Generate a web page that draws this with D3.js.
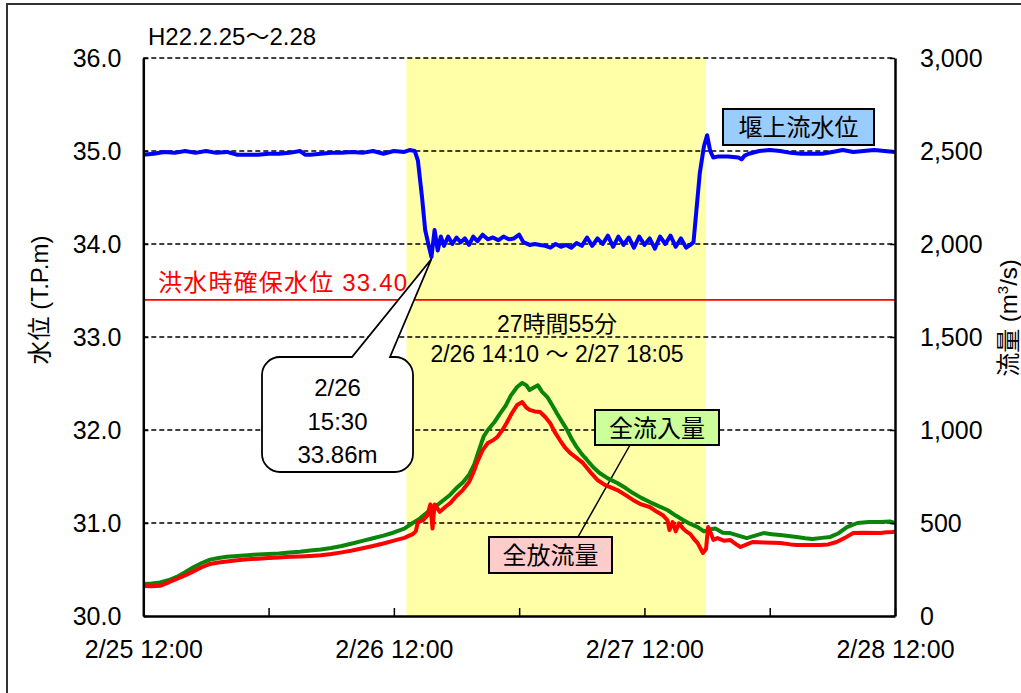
<!DOCTYPE html>
<html>
<head>
<meta charset="utf-8">
<script src="https://cdn.jsdelivr.net/npm/d3@7"></script>
<style>
  html, body { margin: 0; padding: 0; background: #fff; }
  svg { display: block; }
  text { font-family: "Liberation Sans", Arial, "Noto Sans CJK JP", sans-serif; }
</style>
</head>
<body>
<svg id="chart" width="1021" height="693"></svg>
<script>
// ---------- DATA ----------
// hours since 2/25 12:00
const xTickHours = [0, 12, 24, 36, 48, 60, 72];
const xTickLabels = ["2/25 12:00", "", "2/26 12:00", "", "2/27 12:00", "", "2/28 12:00"];
const levelTicks = [30, 31, 32, 33, 34, 35, 36];
const flowTicks = [0, 500, 1000, 1500, 2000, 2500, 3000];

const floodLevel = 33.40;
const bandHours = [25.2, 53.9];

// 堰上流水位 (m)
const levelHours = [
  0, 1, 2, 3, 4, 5, 6, 7, 8, 9, 10, 11, 12, 13, 14, 15, 15.5, 16, 17, 18, 19, 20, 21, 22, 23, 24, 25, 25.5, 26.0,
  26.3, 26.7, 27.0, 27.3, 27.6, 27.9, 28.2, 28.5, 28.8, 29.2, 29.6, 30.0, 30.4, 30.8, 31.2, 31.6, 32.0, 32.5,
  33.0, 33.5, 34.0, 34.5, 35.0, 35.5, 36.0, 36.4, 37.0, 37.5, 38.0, 38.5, 39.0, 39.5, 40.0, 40.5, 41.0, 41.5,
  42.0, 42.5, 43.0, 43.5, 44.0, 44.5, 45.0, 45.5, 46.0, 46.5, 47.0, 47.5, 48.0, 48.5, 49.0, 49.5, 50.0, 50.5,
  51.0, 51.5, 52.0, 52.5, 52.7, 53.3, 53.7, 54.0, 54.3, 54.6, 55, 56, 57, 57.3, 57.6, 58, 59, 60, 61, 62, 63,
  64, 65, 66, 67, 68, 69, 70, 71, 72
];
const levelValues = [
  34.96, 34.97, 34.99, 34.98, 35.00, 34.98, 35.00, 34.98, 34.99, 34.96, 34.96, 34.96, 34.97, 34.97, 34.98, 35.00, 34.96, 34.96, 34.97, 34.98, 34.98, 34.99, 34.98, 35.00, 34.97, 35.00, 34.99, 35.01, 35.00,
  34.90, 34.50, 34.15, 34.00, 33.86, 34.15, 33.93, 34.08, 33.98, 34.08, 34.00, 34.07, 34.02, 34.06, 33.99, 34.08, 34.03, 34.10,
  34.05, 34.07, 34.04, 34.08, 34.05, 34.06, 34.10, 34.02, 33.99, 34.00, 33.99, 33.98, 33.96, 34.00, 33.97, 33.99, 33.96, 34.01,
  33.98, 34.07, 33.98, 34.06, 34.00, 34.09, 33.97, 34.08, 33.99, 34.07, 33.96, 34.08, 33.99, 34.06, 33.95, 34.08, 34.00, 34.09,
  33.97, 34.06, 33.96, 34.00, 34.02, 34.76, 35.05, 35.17, 35.00, 34.93, 34.94, 34.94, 34.93, 34.91, 34.95, 34.97, 35.00, 35.01, 35.00, 34.98, 34.97,
  34.97, 34.97, 34.99, 35.01, 34.99, 35.00, 35.01, 35.00, 34.99
];

// 全流入量 (m3/s)
const inflowHours = [
  0, 0.8, 1.6, 2.4, 3.2, 4.0, 4.8, 5.6, 6.4, 7.2, 8.0, 9.0, 10.0, 11.0, 12.0, 13.0, 14.0, 15.0, 16.0, 17.0, 18.0,
  19.0, 20.0, 21.0, 22.0, 23.0, 24.0, 25.0, 25.8, 26.4, 27.0, 27.6, 28.2, 28.8, 29.4, 30.0, 30.6, 31.2, 31.7, 32.2,
  32.6, 33.0, 33.6, 34.2, 34.7, 35.2, 35.8, 36.3, 36.7, 37.0, 37.4, 37.8, 38.2, 38.7, 39.2, 39.6, 40.1, 40.6, 41.0,
  41.5, 42.0, 42.5, 43.1, 43.7, 44.5, 45.4, 46.2, 46.9, 47.7, 48.5, 49.3, 50.2, 51.0, 51.7, 52.4, 53.1, 53.7, 54.2,
  54.8, 55.5, 56.2, 57.0, 57.8, 58.6, 59.4, 60.2, 61.0, 61.8, 62.6, 63.4, 64.1, 65.0, 65.8, 66.6, 67.4, 68.4, 69.5,
  70.6, 71.5, 72
];
const inflowValues = [
  172, 175, 180, 192, 210, 235, 262, 285, 303, 312, 318, 322, 327, 331, 333, 336, 342, 346, 352, 358, 366,
  376, 390, 404, 418, 432, 449, 470, 500, 520, 548, 575, 598, 625, 652, 688, 718, 760, 815, 900,
  965, 1000, 1040, 1091, 1130, 1185, 1231, 1253, 1240, 1215, 1228, 1240, 1205, 1177, 1130, 1091, 1045, 1000, 955,
  909, 870, 839, 800, 769, 740, 715, 688, 661, 635, 613, 592, 570, 540, 516, 495, 478, 455, 465,
  470, 448, 446, 432, 419, 432, 446, 440, 435, 430, 425, 418, 414, 420, 425, 445, 478, 500, 505,
  505, 508, 500
];

// 全放流量 (m3/s)
const outflowHours = [
  0, 0.8, 1.6, 2.4, 3.2, 4.0, 4.8, 5.6, 6.4, 7.2, 8.0, 9.0, 10.0, 11.0, 12.0, 13.0, 14.0, 15.0, 16.0, 17.0, 18.0,
  19.0, 20.0, 21.0, 22.0, 23.0, 24.0, 25.0, 25.8, 26.1, 26.3, 26.8, 27.2, 27.5, 27.7, 27.9, 28.4, 29.0, 29.4, 30.0,
  30.6, 31.2, 31.6, 32.0, 32.5, 33.0, 33.5, 33.9, 34.4, 34.8, 35.3, 35.8, 36.3, 36.7, 37.0, 37.5, 38.0, 38.5, 38.96,
  39.4, 39.9, 40.4, 40.9, 41.5, 42.1, 42.8, 43.5, 44.2, 45.4, 46.2, 46.9, 47.7, 48.5, 49.2, 49.8, 50.2, 50.4, 50.7,
  51.0, 51.3, 51.7, 52.0, 52.4, 52.8, 53.1, 53.6, 53.9, 54.1, 54.4, 54.6, 55.0, 55.6, 56.2, 56.8, 57.2, 57.8, 58.4,
  59.5, 61.0, 62.0, 62.6, 64.0, 64.8, 65.6, 66.4, 67.2, 68.0, 69.0, 70.6, 71.2, 71.8, 72
];
const outflowValues = [
  161, 160, 162, 180, 200, 218, 240, 262, 280, 288, 293, 300, 305, 308, 312, 314, 318, 320, 323, 327, 333,
  342, 352, 364, 376, 390, 405, 420, 440, 455, 505, 516, 540, 600, 470, 600, 560, 590, 607, 645,
  677, 720, 769, 830, 892, 930, 945, 962, 1000, 1038, 1090, 1134, 1150, 1120, 1108, 1100, 1097, 1070, 1038,
  990, 946, 905, 876, 850, 823, 775, 731, 705, 677, 650, 624, 600, 586, 560, 540, 516, 462, 505,
  455, 498, 470, 455, 440, 410, 392, 339, 360, 478, 440, 409, 419, 405, 409, 385, 371, 385, 398,
  395, 392, 385, 382, 382, 382, 385, 398, 420, 446, 447, 446, 450, 452, 455
];

// ---------- CHART ----------
const svg = d3.select("#chart");
const pL = 143.3, pR = 895, pT = 58, pB = 616;

const x = d3.scaleLinear().domain([0, 72]).range([pL, pR]);
const yL = d3.scaleLinear().domain([30, 36]).range([pB, pT]);
const yR = d3.scaleLinear().domain([0, 3000]).range([pB, pT]);

svg.append("rect").attr("width", 1021).attr("height", 693).attr("fill", "#fff");
// outer frame
svg.append("rect").attr("x", 7).attr("y", 4).attr("width", 1030).attr("height", 720)
  .attr("fill", "none").attr("stroke", "#333").attr("stroke-width", 2);

// yellow band
svg.append("rect")
  .attr("x", x(bandHours[0])).attr("y", pT)
  .attr("width", x(bandHours[1]) - x(bandHours[0])).attr("height", pB - pT)
  .attr("fill", "#ffffa8");

// gridlines
svg.append("g").selectAll("line").data(levelTicks.filter(d => d > 30)).join("line")
  .attr("x1", pL).attr("x2", pR)
  .attr("y1", d => yL(d)).attr("y2", d => yL(d))
  .attr("stroke", "#000").attr("stroke-width", 1.3).attr("stroke-dasharray", "5,3");

// flood level line
svg.append("line").attr("x1", pL).attr("x2", pR)
  .attr("y1", yL(floodLevel)).attr("y2", yL(floodLevel))
  .attr("stroke", "#ff0000").attr("stroke-width", 1.8);

svg.append("text").attr("x", 158).attr("y", yL(floodLevel) - 9)
  .attr("fill", "#ff0000").attr("font-size", 24).attr("letter-spacing", 1.2)
  .text("洪水時確保水位 " + floodLevel.toFixed(2));

// leader line between labels
svg.append("line").attr("x1", 630).attr("y1", 445).attr("x2", 578).attr("y2", 537)
  .attr("stroke", "#000").attr("stroke-width", 1.5);

// series lines
const mk = (hours, vals, ys) => d3.line().x((d, i) => x(hours[i])).y((d, i) => ys(vals[i]))(vals);
svg.append("path").attr("d", mk(inflowHours, inflowValues, yR))
  .attr("fill", "none").attr("stroke", "#0a840a").attr("stroke-width", 4).attr("stroke-linejoin", "round");
svg.append("path").attr("d", mk(outflowHours, outflowValues, yR))
  .attr("fill", "none").attr("stroke", "#ff0000").attr("stroke-width", 4).attr("stroke-linejoin", "round");
svg.append("path").attr("d", mk(levelHours, levelValues, yL))
  .attr("fill", "none").attr("stroke", "#0000ff").attr("stroke-width", 4).attr("stroke-linejoin", "round");

// axes
const axFont = g => g.selectAll("text").attr("font-size", 25).attr("fill", "#000")
  .attr("font-family", "'Liberation Sans', Arial, sans-serif");
const axStyle = g => {
  g.select(".domain").attr("stroke", "#000").attr("stroke-width", 2.5);
  g.selectAll(".tick line").attr("stroke", "#000").attr("stroke-width", 1.5);
};

svg.append("g").attr("transform", `translate(${pL},0)`)
  .call(d3.axisLeft(yL).tickValues(levelTicks).tickFormat(d3.format(".1f"))
    .tickSizeInner(-5).tickSizeOuter(0).tickPadding(22))
  .call(axStyle).call(axFont);

svg.append("g").attr("transform", `translate(${pR},0)`)
  .call(d3.axisRight(yR).tickValues(flowTicks).tickFormat(d3.format(","))
    .tickSizeInner(-5).tickSizeOuter(0).tickPadding(25))
  .call(axStyle).call(axFont);

svg.append("g").attr("transform", `translate(0,${pB})`)
  .call(d3.axisBottom(x).tickValues(xTickHours).tickFormat((d, i) => xTickLabels[i])
    .tickSizeInner(-8).tickSizeOuter(0).tickPadding(24))
  .call(axStyle).call(axFont);

// title
svg.append("text").attr("x", 148).attr("y", 45).attr("font-size", 24).text("H22.2.25〜2.28");

// axis titles
svg.append("text").attr("transform", "translate(48,300) rotate(-90)")
  .attr("text-anchor", "middle").attr("font-size", 24).text("水位 (T.P.m)");
const rt = svg.append("text").attr("transform", "translate(1017,318) rotate(-90)")
  .attr("text-anchor", "middle").attr("font-size", 24);
rt.append("tspan").text("流量 (m");
rt.append("tspan").attr("font-size", 15).attr("dy", -9).text("3");
rt.append("tspan").attr("dy", 9).text("/s)");

// label boxes
function labelBox(x0, y0, w, h, fill, label) {
  svg.append("rect").attr("x", x0).attr("y", y0).attr("width", w).attr("height", h)
    .attr("fill", fill).attr("stroke", "#000").attr("stroke-width", 2);
  svg.append("text").attr("x", x0 + w / 2).attr("y", y0 + h / 2 + 9)
    .attr("text-anchor", "middle").attr("font-size", 24).text(label);
}
labelBox(723, 109, 151, 36, "#99ccff", "堰上流水位");
labelBox(595, 410, 124, 35, "#ccff99", "全流入量");
labelBox(489, 537, 123, 36, "#ffcccc", "全放流量");

// duration text
svg.append("text").attr("x", 557).attr("y", 332).attr("text-anchor", "middle")
  .attr("font-size", 23).text("27時間55分");
svg.append("text").attr("x", 557).attr("y", 362).attr("text-anchor", "middle")
  .attr("font-size", 23).text("2/26 14:10 〜 2/27 18:05");

// callout
const tipX = x(27.6), tipY = yL(33.86) + 2;
const bx0 = 262, bx1 = 413, by0 = 357, by1 = 472, r = 18;
const p = d3.path();
p.moveTo(bx0 + r, by0);
p.lineTo(352, by0);
p.lineTo(tipX, tipY);
p.lineTo(390, by0);
p.lineTo(bx1 - r, by0);
p.arcTo(bx1, by0, bx1, by0 + r, r);
p.lineTo(bx1, by1 - r);
p.arcTo(bx1, by1, bx1 - r, by1, r);
p.lineTo(bx0 + r, by1);
p.arcTo(bx0, by1, bx0, by1 - r, r);
p.lineTo(bx0, by0 + r);
p.arcTo(bx0, by0, bx0 + r, by0, r);
p.closePath();
svg.append("path").attr("d", p.toString()).attr("fill", "#fff")
  .attr("stroke", "#000").attr("stroke-width", 1.8).attr("stroke-linejoin", "miter");
const cx = (bx0 + bx1) / 2;
[["2/26", 396], ["15:30", 430], ["33.86m", 463]].forEach(([t, yy]) => {
  svg.append("text").attr("x", cx).attr("y", yy).attr("text-anchor", "middle")
    .attr("font-size", 24).text(t);
});
</script>
</body>
</html>
